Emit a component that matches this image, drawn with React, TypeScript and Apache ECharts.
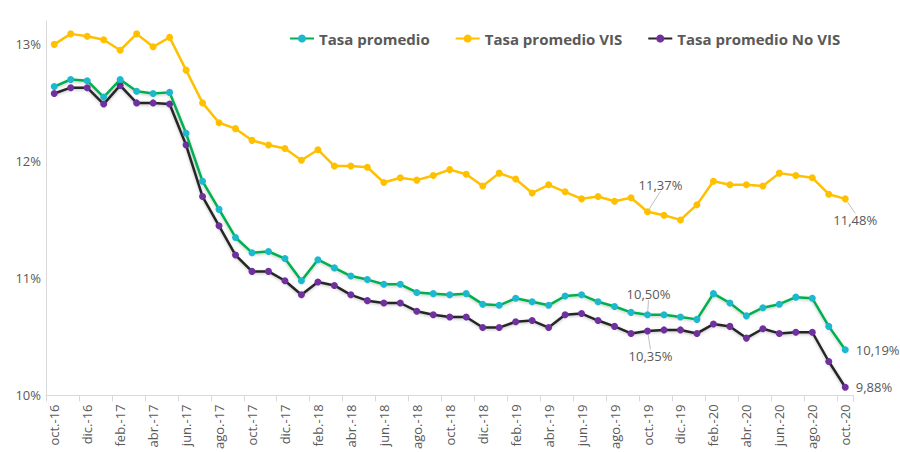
import React, { useEffect, useRef } from "react";
import * as echarts from "echarts";

const categories = [
  "oct.-16", "nov.-16", "dic.-16", "ene.-17", "feb.-17", "mar.-17", "abr.-17", "may.-17", "jun.-17", "jul.-17", "ago.-17", "sep.-17",
  "oct.-17", "nov.-17", "dic.-17", "ene.-18", "feb.-18", "mar.-18", "abr.-18", "may.-18", "jun.-18", "jul.-18", "ago.-18", "sep.-18",
  "oct.-18", "nov.-18", "dic.-18", "ene.-19", "feb.-19", "mar.-19", "abr.-19", "may.-19", "jun.-19", "jul.-19", "ago.-19", "sep.-19",
  "oct.-19", "nov.-19", "dic.-19", "ene.-20", "feb.-20", "mar.-20", "abr.-20", "may.-20", "jun.-20", "jul.-20", "ago.-20", "sep.-20",
  "oct.-20",
];

const tasaPromedio = [
  12.64, 12.70, 12.69, 12.55, 12.70, 12.60, 12.58, 12.59, 12.24, 11.83, 11.59, 11.35,
  11.22, 11.23, 11.17, 10.98, 11.16, 11.09, 11.02, 10.99, 10.95, 10.95, 10.88, 10.87,
  10.86, 10.87, 10.78, 10.77, 10.83, 10.80, 10.77, 10.85, 10.86, 10.80, 10.76, 10.71,
  10.69, 10.69, 10.67, 10.65, 10.87, 10.79, 10.68, 10.75, 10.78, 10.84, 10.83, 10.59,
  10.39,
];

const tasaVIS = [
  13.00, 13.09, 13.07, 13.04, 12.95, 13.09, 12.98, 13.06, 12.78, 12.50, 12.33, 12.28,
  12.18, 12.14, 12.11, 12.01, 12.10, 11.96, 11.96, 11.95, 11.82, 11.86, 11.84, 11.88,
  11.93, 11.89, 11.79, 11.90, 11.85, 11.73, 11.80, 11.74, 11.68, 11.70, 11.66, 11.69,
  11.57, 11.54, 11.50, 11.63, 11.83, 11.80, 11.80, 11.79, 11.90, 11.88, 11.86, 11.72,
  11.68,
];

const tasaNoVIS = [
  12.58, 12.63, 12.63, 12.49, 12.65, 12.50, 12.50, 12.49, 12.14, 11.70, 11.45, 11.20,
  11.06, 11.06, 10.98, 10.86, 10.97, 10.94, 10.86, 10.81, 10.79, 10.79, 10.72, 10.69,
  10.67, 10.67, 10.58, 10.58, 10.63, 10.64, 10.58, 10.69, 10.70, 10.64, 10.59, 10.53,
  10.55, 10.56, 10.56, 10.53, 10.61, 10.59, 10.49, 10.57, 10.53, 10.54, 10.54, 10.29,
  10.07,
];

const yTicks = [10, 11, 12, 13];

// data-label texts as printed on the original chart, keyed by category index
const notesPromedio: Record<number, string> = { 36: "10,50%", 48: "10,19%" };
const notesVIS: Record<number, string> = { 36: "11,37%", 48: "11,48%" };
const notesNoVIS: Record<number, string> = { 36: "10,35%", 48: "9,88%" };

const FONT = "'Open Sans', 'Noto Sans', sans-serif";
const GRAY = "#595959";

type Offset = { dx: number; dy: number; pos: string };

const offPromedio: Record<number, Offset> = { 36: { dx: 1, dy: -21, pos: "inside" }, 48: { dx: 0, dy: 0, pos: "right" } };
const offVIS: Record<number, Offset> = { 36: { dx: 13, dy: -27, pos: "inside" }, 48: { dx: 10, dy: 21, pos: "inside" } };
const offNoVIS: Record<number, Offset> = { 36: { dx: 3, dy: 25, pos: "inside" }, 48: { dx: 0, dy: 0, pos: "right" } };

function buildData(values: number[], notes: Record<number, string>, offsets: Record<number, Offset>) {
  return values.map((v, i) => {
    if (notes[i] === undefined) return v;
    const o = offsets[i];
    return {
      value: v,
      label: {
        show: true,
        position: o.pos,
        distance: 7,
        formatter: notes[i],
        color: GRAY,
        fontSize: 13,
        fontFamily: FONT,
      },
      labelLine: { show: o.pos === "inside", lineStyle: { color: "#bfbfbf", width: 1 } },
    };
  });
}

function makeLayout(offsets: Record<number, Offset>) {
  return (params: any) => {
    const o = offsets[params.dataIndex];
    if (!o || o.pos !== "inside") return {};
    return { dx: o.dx, dy: o.dy };
  };
}

export default function App() {
  const ref = useRef<HTMLDivElement>(null);

  useEffect(() => {
    if (!ref.current) return;
    const chart = echarts.init(ref.current, undefined, { renderer: "svg" });
    const shadow = { shadowColor: "rgba(0,0,0,0.25)", shadowBlur: 3, shadowOffsetY: 1 };
    chart.setOption({
      animation: false,
      backgroundColor: "#ffffff",
      textStyle: { fontFamily: FONT },
      grid: { left: 46, right: 46.5, top: 21, bottom: 49, containLabel: false },
      legend: {
        left: 284,
        top: 26,
        itemGap: 25,
        itemWidth: 24,
        itemHeight: 10,
        textStyle: { color: GRAY, fontSize: 15, fontWeight: "bold", fontFamily: FONT },
        data: ["Tasa promedio", "Tasa promedio VIS", "Tasa promedio No VIS"],
      },
      xAxis: {
        type: "category",
        data: categories,
        boundaryGap: true,
        axisLine: { lineStyle: { color: "#d9d9d9", width: 1 } },
        axisTick: { show: true, interval: 1, length: 6, lineStyle: { color: "#d9d9d9" } },
        axisLabel: {
          interval: 1,
          rotate: 90,
          margin: 9,
          color: GRAY,
          fontSize: 13,
          fontFamily: FONT,
        },
        splitLine: { show: false },
      },
      yAxis: {
        type: "value",
        min: 10,
        max: 13.2,
        interval: 1,
        axisLine: { show: true, lineStyle: { color: "#d9d9d9", width: 1 } },
        axisTick: { show: false },
        splitLine: { show: false },
        axisLabel: {
          color: GRAY,
          fontSize: 13,
          fontFamily: FONT,
          margin: 5,
          formatter: (v: number) => (yTicks.includes(Math.round(v * 100) / 100) ? `${Math.round(v)}%` : ""),
        },
      },
      series: [
        {
          name: "Tasa promedio",
          type: "line",
          data: buildData(tasaPromedio, notesPromedio, offPromedio),
          symbol: "circle",
          symbolSize: 7,
          z: 3,
          lineStyle: { color: "#00B050", width: 2.5, ...shadow },
          itemStyle: { color: "#1BB8D0", borderWidth: 0 },
          labelLayout: makeLayout(offPromedio),
        },
        {
          name: "Tasa promedio VIS",
          type: "line",
          data: buildData(tasaVIS, notesVIS, offVIS),
          symbol: "circle",
          symbolSize: 7,
          z: 2,
          lineStyle: { color: "#FFC000", width: 2.5 },
          itemStyle: { color: "#FFC000", borderWidth: 0 },
          labelLayout: makeLayout(offVIS),
        },
        {
          name: "Tasa promedio No VIS",
          type: "line",
          data: buildData(tasaNoVIS, notesNoVIS, offNoVIS),
          symbol: "circle",
          symbolSize: 7,
          z: 2,
          lineStyle: { color: "#262626", width: 2.5, ...shadow },
          itemStyle: { color: "#7030A0", borderWidth: 0 },
          labelLayout: makeLayout(offNoVIS),
        },
      ],
    });
    return () => chart.dispose();
  }, []);

  return (
    <div
      ref={ref}
      style={{ position: "fixed", left: 0, top: 0, width: 900, height: 452, background: "#fff" }}
    />
  );
}
